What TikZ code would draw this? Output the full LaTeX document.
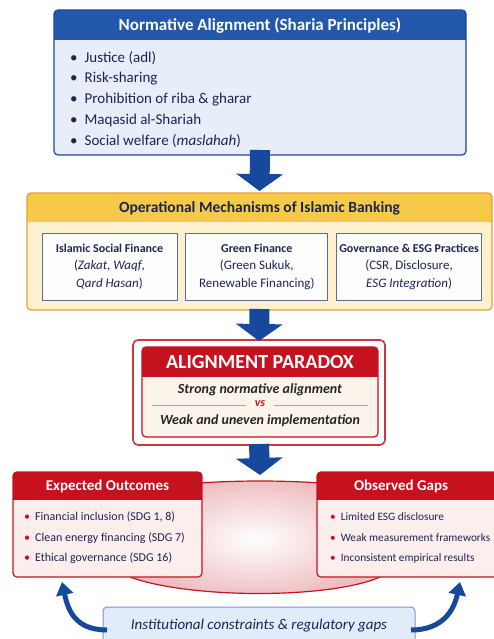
\documentclass[tikz,border=0pt]{standalone}
\usepackage{fontspec}
\setmainfont{Carlito}
\usepackage{xcolor}
\usetikzlibrary{arrows.meta,positioning,calc}
\definecolor{BlueHead}{RGB}{36,88,170}
\definecolor{BlueFill}{RGB}{231,238,250}
\definecolor{BlueArr}{RGB}{22,72,158}
\definecolor{NavyTxt}{RGB}{28,36,84}
\definecolor{YelHead}{RGB}{246,201,72}
\definecolor{YelFill}{RGB}{253,241,208}
\definecolor{YelLine}{RGB}{226,160,52}
\definecolor{SubLine}{RGB}{92,110,150}
\definecolor{ParRed}{RGB}{198,18,30}
\definecolor{ParCream}{RGB}{251,244,234}
\definecolor{GapFill}{RGB}{252,238,236}
\definecolor{InstFill}{RGB}{226,235,250}
\definecolor{InstLine}{RGB}{122,150,200}
\newcommand{\hband}[4]{% node, band height, band colour, border colour
  \begin{scope}
    \clip[rounded corners=4pt] (#1.north west) rectangle (#1.south east);
    \fill[#3] (#1.north west) rectangle ($(#1.north east)+(0,#2)$);
  \end{scope}
  \draw[#4,line width=1.2pt,rounded corners=4pt] (#1.north west) rectangle (#1.south east);}
\tikzset{
  panel/.style={rectangle,rounded corners=4pt,outer sep=0pt,inner sep=0pt},
  headtxt/.style={font=\fontsize{17}{19}\selectfont\bfseries,text=white},
  listtxt/.style={align=left,inner sep=0pt,text=NavyTxt},
  subbox/.style={rectangle,draw=SubLine,line width=0.8pt,fill=white!96!BlueFill,
                 minimum height=67pt,align=center,text=NavyTxt,inner sep=0pt,
                 font=\fontsize{13}{17.5}\selectfont},
  blockarr/.style={-{Triangle[width=46pt,length=17pt]},line width=20pt,BlueArr},
  curvarr/.style={-{Triangle[width=17pt,length=13pt]},line width=5pt,BlueArr},
  sepline/.style={gray!70,line width=0.6pt},
}
\newcommand{\rb}{{\color{ParRed}\textbullet}\hspace{5pt}}
\newcommand{\subhead}[1]{{\fontsize{12}{17.5}\selectfont\bfseries #1}}
\begin{document}
\begin{tikzpicture}[x=1pt,y=-1pt]
  \useasboundingbox (0,0) rectangle (493,639);

  % normative alignment
  \node[panel,fill=BlueFill,minimum width=412pt,minimum height=145pt] (norm) at (260,82.5) {};
  \hband{norm}{30}{BlueHead}{BlueArr}
  \node[headtxt] (normhead) at ($(norm.north)+(0,16)$) {Normative Alignment (Sharia Principles)};
  \node[listtxt,anchor=north west,font=\fontsize{15}{20.8}\selectfont] (normlist) at (70,51)
    {\textbullet\hspace{7pt}Justice (adl)\\
     \textbullet\hspace{7pt}Risk-sharing\\
     \textbullet\hspace{7pt}Prohibition of riba \& gharar\\
     \textbullet\hspace{7pt}Maqasid al-Shariah\\
     \textbullet\hspace{7pt}Social welfare (\textit{maslahah})};

  % operational mechanisms
  \node[panel,fill=YelFill,minimum width=465pt,minimum height=117pt] (ops) at (259.5,251.5) {};
  \hband{ops}{29}{YelHead}{YelLine}
  \node[headtxt,text=NavyTxt,font=\fontsize{15.5}{18}\selectfont\bfseries] (opshead) at ($(ops.north)+(0,15.5)$)
    {Operational Mechanisms of Islamic Banking};
  \node[subbox,minimum width=135pt] (isf) at (109.5,266.5)
    {\subhead{Islamic Social Finance}\\(\textit{Zakat}, \textit{Waqf},\\\textit{Qard Hasan})};
  \node[subbox,minimum width=142pt,right=8pt of isf] (green)
    {\subhead{Green Finance}\\(Green Sukuk,\\Renewable Financing)};
  \node[subbox,minimum width=145pt,right=8pt of green] (gov)
    {\subhead{Governance \& ESG Practices}\\(CSR, Disclosure,\\\textit{ESG Integration})};

  % paradox
  \node[panel,rounded corners=5pt,draw=ParRed!85,line width=1.6pt,fill=white,
        minimum width=252pt,minimum height=105pt] (parout) at (259,392.5) {};
  \node[panel,fill=ParCream,minimum width=236pt,minimum height=90pt] (parin) at (260,392) {};
  \hband{parin}{30}{ParRed}{ParRed}
  \node[headtxt,font=\fontsize{20}{22}\selectfont\bfseries] (parhead) at ($(parin.north)+(0,15.5)$)
    {ALIGNMENT PARADOX};
  \node[font=\fontsize{14}{16}\selectfont\bfseries\itshape,text=black!85] (strong) at (260,390)
    {Strong normative alignment};
  \node[font=\fontsize{12}{13}\selectfont\bfseries\itshape,text=ParRed,inner sep=3pt] (vs) at (260,404) {vs};
  \node[font=\fontsize{14}{16}\selectfont\bfseries\itshape,text=black!85] (weak) at (260,421)
    {Weak and uneven implementation};
  \draw[sepline] ($(parin.west |- vs)+(10,1)$) -- ($(vs.west)+(-6,1)$);
  \draw[sepline] ($(vs.east)+(6,1)$) -- ($(parin.east |- vs)+(-10,1)$);

  % lens between outcomes and gaps
  \path[draw=ParRed,line width=1.2pt,inner color=white,outer color=ParRed!28]
    (150,487) .. controls (230,479) and (290,479) .. (370,487) -- (380,577)
    .. controls (330,599) and (190,599) .. (130,577) -- cycle;

  % outcomes and gaps
  \node[panel,fill=GapFill,minimum width=189pt,minimum height=105pt] (expect) at (107.5,524.5) {};
  \hband{expect}{28}{ParRed}{ParRed}
  \node[headtxt,font=\fontsize{15}{17}\selectfont\bfseries] (expecthead) at ($(expect.north)+(0,14.5)$) {Expected Outcomes};
  \node[listtxt,anchor=north west,font=\fontsize{12}{20.5}\selectfont] (expectlist) at (24,512)
    {\rb Financial inclusion (SDG 1, 8)\\
     \rb Clean energy financing (SDG 7)\\
     \rb Ethical governance (SDG 16)};
  \node[panel,fill=GapFill,minimum width=182pt,minimum height=105pt] (gaps) at (408,524.5) {};
  \hband{gaps}{28}{ParRed}{ParRed}
  \node[headtxt,font=\fontsize{15}{17}\selectfont\bfseries] (gapshead) at (401,486) {Observed Gaps};
  \node[listtxt,anchor=north west,font=\fontsize{11.3}{20.5}\selectfont] (gapslist) at (330,512.5)
    {\rb Limited ESG disclosure\\
     \rb Weak measurement frameworks\\
     \rb Inconsistent empirical results};

  % constraints
  \node[panel,draw=InstLine,line width=1pt,fill=InstFill,minimum width=312pt,minimum height=38pt,
        text=NavyTxt,font=\fontsize{15}{17}\selectfont\itshape] (inst) at (259,626)
    {Institutional constraints \& regulatory gaps};

  % arrows
  \coordinate (outtip) at (260,475);
  \coordinate (tipL) at (62,582);
  \coordinate (tipR) at (460,582);
  \draw[blockarr] ($(norm.south)+(0,-5)$) -- ($(ops.north)+(0,-2)$);
  \draw[blockarr] ($(ops.south)+(0,-1)$) -- ($(parout.north)+(0,1)$);
  \draw[blockarr] ($(parout.south)+(0,-1)$) -- (outtip);
  \draw[curvarr] ($(inst.west)+(4,4)$) .. controls +(-32,0) and +(6,28) .. (tipL);
  \draw[curvarr] ($(inst.east)+(-4,4)$) .. controls +(32,0) and +(-6,28) .. (tipR);
\end{tikzpicture}
\end{document}
